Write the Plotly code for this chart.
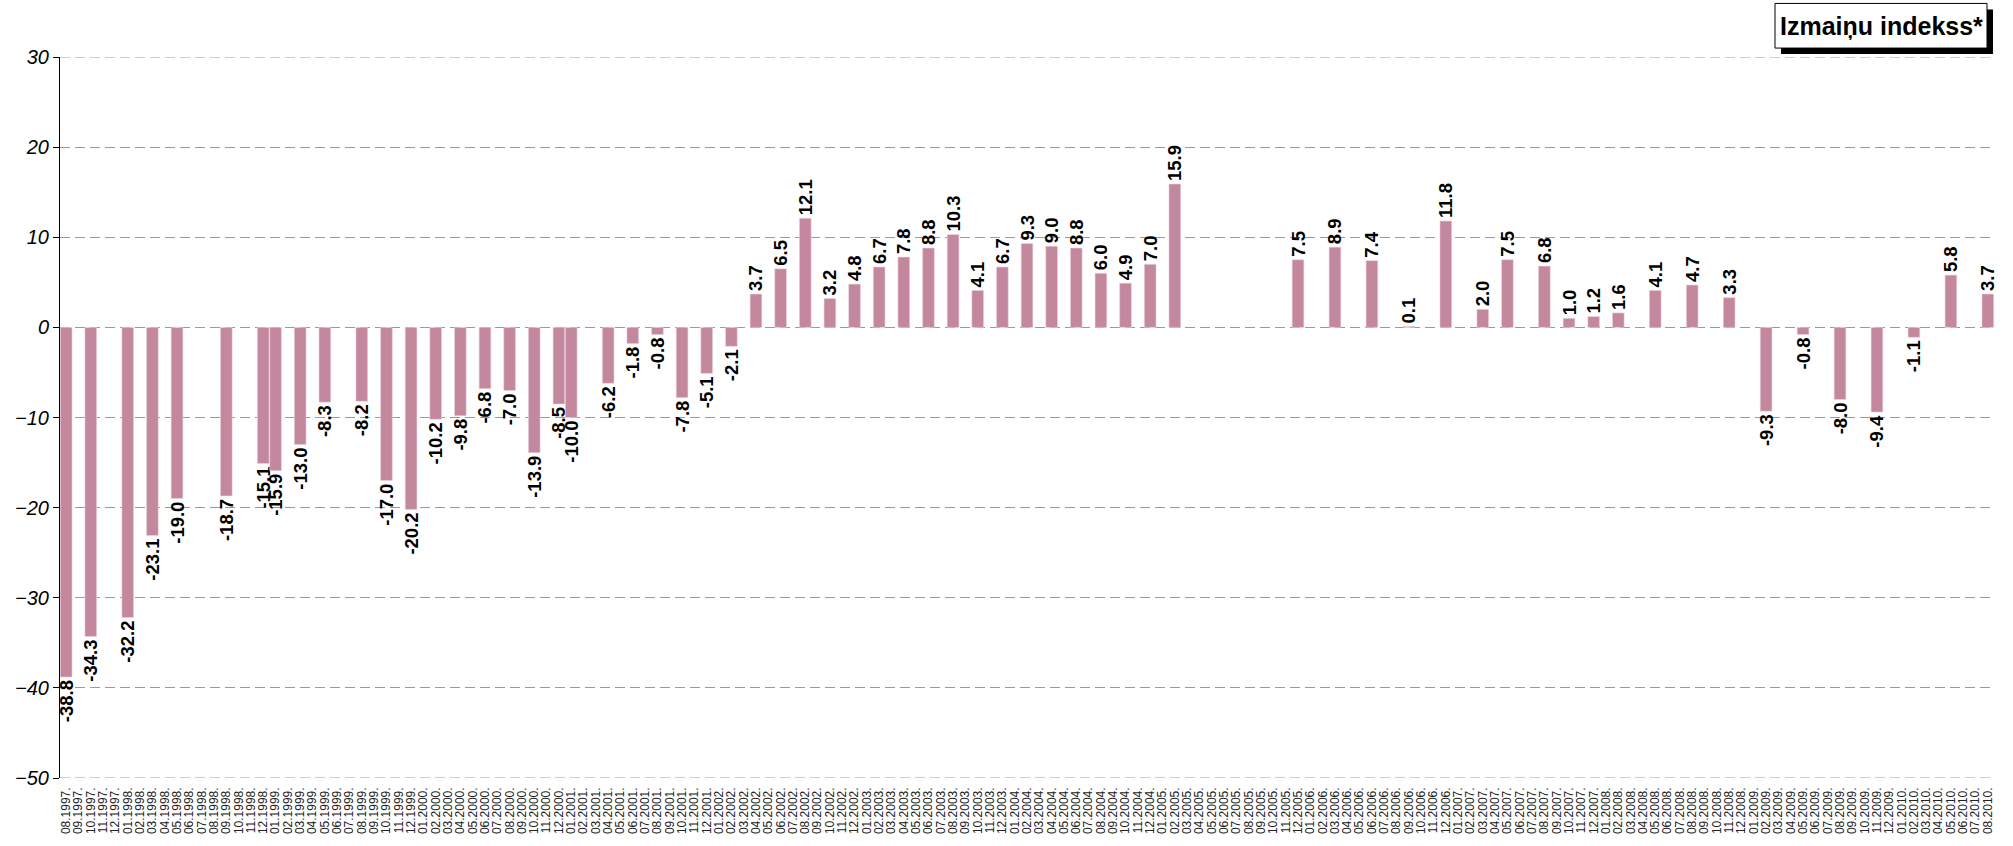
import plotly.graph_objects as go

# Monthly category axis: 08.1997 ... 08.2010
start_year, start_month = 1997, 8
end_year, end_month = 2010, 8

# Observed months and their index values
obs_months = [
    "08.1997", "10.1997", "01.1998", "03.1998", "05.1998", "09.1998", "12.1998",
    "01.1999", "03.1999", "05.1999", "08.1999", "10.1999", "12.1999",
    "02.2000", "04.2000", "06.2000", "08.2000", "10.2000", "12.2000",
    "01.2001", "04.2001", "06.2001", "08.2001", "10.2001", "12.2001",
    "02.2002", "04.2002", "06.2002", "08.2002", "10.2002", "12.2002",
    "02.2003", "04.2003", "06.2003", "08.2003", "10.2003", "12.2003",
    "02.2004", "04.2004", "06.2004", "08.2004", "10.2004", "12.2004",
    "02.2005", "12.2005",
    "03.2006", "06.2006", "09.2006", "12.2006",
    "03.2007", "05.2007", "08.2007", "10.2007", "12.2007",
    "02.2008", "05.2008", "08.2008", "11.2008",
    "02.2009", "05.2009", "08.2009", "11.2009",
    "02.2010", "05.2010", "08.2010",
]
obs_values = [
    -38.8, -34.3, -32.2, -23.1, -19.0, -18.7, -15.1,
    -15.9, -13.0, -8.3, -8.2, -17.0, -20.2,
    -10.2, -9.8, -6.8, -7.0, -13.9, -8.5,
    -10.0, -6.2, -1.8, -0.8, -7.8, -5.1,
    -2.1, 3.7, 6.5, 12.1, 3.2, 4.8,
    6.7, 7.8, 8.8, 10.3, 4.1, 6.7,
    9.3, 9.0, 8.8, 6.0, 4.9, 7.0,
    15.9, 7.5,
    8.9, 7.4, 0.1, 11.8,
    2.0, 7.5, 6.8, 1.0, 1.2,
    1.6, 4.1, 4.7, 3.3,
    -9.3, -0.8, -8.0, -9.4,
    -1.1, 5.8, 3.7,
]

series_name = "Izmaiņu indekss*"
y_ticks = [-50, -40, -30, -20, -10, 0, 10, 20, 30]
y_min, y_max = -50, 30

# Build the full list of month categories
categories = []
y, m = start_year, start_month
while (y, m) <= (end_year, end_month):
    categories.append(f"{m:02d}.{y}")
    m += 1
    if m > 12:
        m, y = 1, y + 1

lookup = dict(zip(obs_months, obs_values))
values = [lookup.get(c) for c in categories]
tick_text = [c + "." for c in categories]

W, H = 2013, 846
L, R, T, B = 60, 1994, 57, 784  # plot area in pixels

def px_x(x):
    return (x - L) / (R - L)

def px_y(y):
    return (B - y) / (B - T)

GRID_COLOR = "#9a9a9a"
GRID_DASH = "10px,5px"

fig = go.Figure()
fig.add_trace(go.Bar(
    x=categories,
    y=values,
    name=series_name,
    marker=dict(color="#C3879E", line=dict(width=0.6, color="#EBD3DC")),
    texttemplate="%{y:.1f}",
    textposition="outside",
    textangle=-90,
    textfont=dict(family="Liberation Sans, Arial", size=18.5, color="black", weight="bold"),
    constraintext="none",
    cliponaxis=False,
    showlegend=False,
))

# dashed lines along the top and bottom edges of the value range
edge_lines = [
    dict(type="line", xref="paper", yref="y", x0=0, x1=1, y0=v, y1=v,
         line=dict(color=GRID_COLOR, width=1, dash=GRID_DASH), layer="below")
    for v in (y_min, y_max)
]

fig.update_layout(
    width=W, height=H,
    margin=dict(l=L, r=W - R, t=T, b=H - B),
    plot_bgcolor="white",
    paper_bgcolor="white",
    bargap=0.05,
    font=dict(family="Liberation Sans, Arial", color="black"),
    xaxis=dict(
        type="category",
        categoryorder="array",
        categoryarray=categories,
        tickmode="array",
        tickvals=categories,
        ticktext=tick_text,
        tickangle=-90,
        tickfont=dict(size=12, color="#222222"),
        ticklabelstandoff=6,
        showgrid=False,
        showline=False,
        ticks="",
        zeroline=False,
    ),
    yaxis=dict(
        range=[y_min, y_max],
        tickvals=y_ticks,
        tickfont=dict(size=20, style="italic", color="black"),
        showgrid=True,
        gridcolor=GRID_COLOR,
        gridwidth=1,
        griddash=GRID_DASH,
        zeroline=False,
        showline=True,
        linecolor="black",
        linewidth=1,
        ticks="outside",
        ticklen=6,
        tickcolor="black",
    ),
    shapes=edge_lines + [
        # drop shadow of the series label box
        dict(type="rect", xref="paper", yref="paper",
             x0=px_x(1781), x1=px_x(1993), y0=px_y(54), y1=px_y(9),
             fillcolor="black", line=dict(width=0), layer="above"),
        dict(type="rect", xref="paper", yref="paper",
             x0=px_x(1775), x1=px_x(1987), y0=px_y(48), y1=px_y(3),
             fillcolor="white", line=dict(color="black", width=1), layer="above"),
    ],
    annotations=[
        dict(text=f"<b>{series_name}</b>", xref="paper", yref="paper",
             x=px_x(1881), y=px_y(26), xanchor="center", yanchor="middle",
             showarrow=False, font=dict(size=25, color="black")),
    ],
)

fig.write_html("out.html")
